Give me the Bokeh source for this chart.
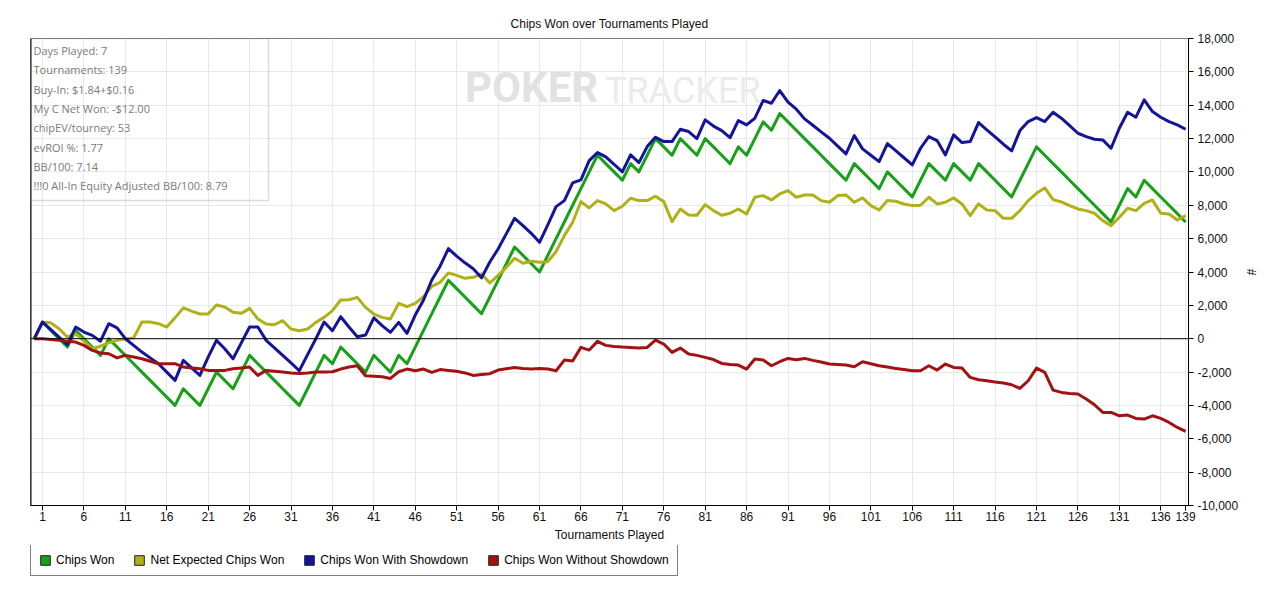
from bokeh.plotting import figure
from bokeh.layouts import column
from bokeh.models import (Range1d, FixedTicker, NumeralTickFormatter, Span, Label,
                          BoxAnnotation, Legend, LegendItem, ColumnDataSource)
from bokeh.embed import file_html
from bokeh.resources import INLINE

# ---------------- data ----------------
tournaments = list(range(0, 140))

chips_won = [
    0, 1000, 500, 0, -500, 500, 0, -500, -1000, 0,
    -500, -1000, -1500, -2000, -2500, -3000, -3500, -4000, -3000, -3500,
    -4000, -3000, -2000, -2500, -3000, -2000, -1000, -1500, -2000, -2500,
    -3000, -3500, -4000, -3000, -2000, -1000, -1500, -500, -1000, -1500,
    -2000, -1000, -1500, -2000, -1000, -1500, -500, 500, 1500, 2500,
    3500, 3000, 2500, 2000, 1500, 2500, 3500, 4500, 5500, 5000,
    4500, 4000, 5000, 6000, 7000, 8000, 9000, 10000, 11000, 10500,
    10000, 9500, 10500, 10000, 11000, 12000, 11500, 11000, 12000, 11500,
    11000, 12000, 11500, 11000, 10500, 11500, 11000, 12000, 13000, 12500,
    13500, 13000, 12500, 12000, 11500, 11000, 10500, 10000, 9500, 10500,
    10000, 9500, 9000, 10000, 9500, 9000, 8500, 9500, 10500, 10000,
    9500, 10500, 10000, 9500, 10500, 10000, 9500, 9000, 8500, 9500,
    10500, 11500, 11000, 10500, 10000, 9500, 9000, 8500, 8000, 7500,
    7000, 8000, 9000, 8500, 9500, 9000, 8500, 8000, 7500, 7000,
]

net_expected_chips_won = [
    0, 980, 950, 600, 100, 300, -150, -600, -450, -250,
    -100, 0, 50, 1000, 1000, 900, 700, 1250, 1850, 1650,
    1480, 1480, 2020, 1900, 1580, 1520, 1820, 1180, 880, 840,
    1080, 580, 480, 580, 980, 1280, 1680, 2320, 2340, 2480,
    1880, 1480, 1280, 1180, 2120, 1920, 2120, 2520, 3140, 3380,
    3940, 3800, 3620, 3680, 3880, 3340, 3800, 4280, 4820, 4520,
    4640, 4580, 4620, 5220, 6180, 6980, 8220, 7840, 8280, 8080,
    7680, 7940, 8420, 8280, 8280, 8540, 8220, 7020, 7780, 7420,
    7400, 8040, 7680, 7400, 7520, 7780, 7480, 8480, 8580, 8320,
    8680, 8880, 8480, 8620, 8620, 8280, 8180, 8580, 8620, 8180,
    8440, 7980, 7720, 8280, 8240, 8080, 7980, 8000, 8480, 8080,
    8180, 8440, 8080, 7380, 8080, 7720, 7680, 7220, 7220, 7680,
    8280, 8720, 9040, 8340, 8200, 7980, 7780, 7680, 7520, 7080,
    6780, 7280, 7820, 7680, 8120, 8320, 7520, 7480, 7120, 7380,
]

chips_won_with_showdown = [
    0, 1000, 550, 100, -350, 700, 400, 200, -150, 900,
    650, 0, -400, -800, -1150, -1500, -2000, -2500, -1300, -1750,
    -2200, -1100, -100, -600, -1200, -250, 700, 700, -100, -550,
    -1000, -1450, -1920, -950, 0, 1000, 480, 1320, 700, 120,
    220, 1250, 780, 380, 980, 320, 1420, 2320, 3520, 4350,
    5400, 4950, 4550, 4200, 3650, 4600, 5380, 6300, 7220, 6780,
    6320, 5780, 6820, 7920, 8280, 9340, 9520, 10680, 11160, 10900,
    10460, 10000, 11020, 10560, 11520, 12080, 11820, 11820, 12560, 12420,
    12000, 13120, 12750, 12480, 12050, 13080, 12820, 13220, 14280, 14120,
    14880, 14180, 13760, 13180, 12800, 12400, 12020, 11550, 11080, 12180,
    11380, 11000, 10620, 11700, 11280, 10850, 10420, 11420, 12120, 11880,
    11020, 12220, 11760, 11820, 12960, 12520, 12100, 11660, 11260, 12480,
    13020, 13260, 13020, 13580, 13220, 12780, 12320, 12120, 11960, 11920,
    11420, 12620, 13580, 13280, 14320, 13620, 13280, 13020, 12820, 12560,
]

chips_won_without_showdown = [
    0, 0, -50, -100, -150, -200, -400, -700, -850, -900,
    -1150, -1000, -1100, -1200, -1350, -1500, -1500, -1500, -1700, -1750,
    -1800, -1900, -1900, -1900, -1800, -1750, -1700, -2200, -1900, -1950,
    -2000, -2050, -2080, -2050, -2000, -2000, -1980, -1820, -1700, -1620,
    -2220, -2250, -2280, -2380, -1980, -1820, -1920, -1820, -2020, -1850,
    -1900, -1950, -2050, -2200, -2150, -2100, -1880, -1800, -1720, -1780,
    -1820, -1780, -1820, -1920, -1280, -1340, -520, -680, -160, -400,
    -460, -500, -520, -560, -520, -80, -320, -820, -560, -920,
    -1000, -1120, -1250, -1480, -1550, -1580, -1820, -1220, -1280, -1620,
    -1380, -1180, -1260, -1180, -1300, -1400, -1520, -1550, -1580, -1680,
    -1380, -1500, -1620, -1700, -1780, -1850, -1920, -1920, -1620, -1880,
    -1520, -1720, -1760, -2320, -2460, -2520, -2600, -2660, -2760, -2980,
    -2520, -1760, -2020, -3080, -3220, -3280, -3320, -3620, -3960, -4420,
    -4420, -4620, -4580, -4780, -4820, -4620, -4780, -5020, -5320, -5560,
]

series_names = ["Chips Won", "Net Expected Chips Won",
                "Chips Won With Showdown", "Chips Won Without Showdown"]
series_colors = ["#18a018", "#b0b018", "#14149a", "#a31212"]

x_ticks = [1, 6, 11, 16, 21, 26, 31, 36, 41, 46, 51, 56, 61, 66, 71, 76, 81,
           86, 91, 96, 101, 106, 111, 116, 121, 126, 131, 136, 139]
y_ticks = [-10000, -8000, -6000, -4000, -2000, 0, 2000, 4000, 6000, 8000,
           10000, 12000, 14000, 16000, 18000]

info_lines = [
    "Days Played: 7",
    "Tournaments: 139",
    "Buy-In: $1.84+$0.16",
    "My C Net Won: -$12.00",
    "chipEV/tourney: 53",
    "evROI %: 1.77",
    "BB/100: 7.14",
    "!!!0 All-In Equity Adjusted BB/100: 8.79",
]

# ---------------- figure ----------------
X0, X1 = -0.45, 139.35
Y0, Y1 = -10000, 18000
FRAME_W = 1158
FRAME_H = 467

p = figure(frame_width=FRAME_W, frame_height=FRAME_H, output_backend="svg",
           toolbar_location=None,
           x_range=Range1d(X0, X1), y_range=Range1d(Y0, Y1),
           y_axis_location="right",
           title="Chips Won over Tournaments Played",
           min_border_left=30, min_border_right=84,
           min_border_top=38, min_border_bottom=40)

p.background_fill_color = "white"
p.border_fill_color = "white"
p.outline_line_color = "#7a7a7a"
p.outline_line_width = 1

p.title.align = "center"
p.title.offset = 38
p.title.standoff = 16
p.title.text_font = "Liberation Sans"
p.title.text_font_size = "12px"
p.title.text_font_style = "normal"
p.title.text_color = "#111111"

AX_FONT = "Liberation Sans"
xa = p.xaxis[0]
xa.ticker = FixedTicker(ticks=x_ticks)
xa.axis_label = "Tournaments Played"
xa.axis_label_text_font = AX_FONT
xa.axis_label_text_font_size = "12px"
xa.axis_label_text_font_style = "normal"
xa.axis_label_text_color = "#111111"
xa.axis_label_standoff = 4
xa.major_label_text_font = AX_FONT
xa.major_label_text_font_size = "12px"
xa.major_label_text_color = "#111111"
xa.major_label_standoff = 1
xa.major_tick_out = 5
xa.major_tick_in = 0
xa.minor_tick_line_color = None
xa.axis_line_color = "black"

ya = p.yaxis[0]
ya.ticker = FixedTicker(ticks=y_ticks)
ya.formatter = NumeralTickFormatter(format="0,0")
ya.axis_label = "#"
ya.axis_label_text_font = AX_FONT
ya.axis_label_text_font_size = "12px"
ya.axis_label_text_font_style = "normal"
ya.axis_label_text_color = "#111111"
ya.axis_label_standoff = 3
ya.major_label_text_font = AX_FONT
ya.major_label_text_font_size = "12px"
ya.major_label_text_color = "#111111"
ya.major_label_standoff = 4
ya.major_tick_out = 5
ya.major_tick_in = 0
ya.minor_tick_line_color = None
ya.axis_line_color = "black"

p.xgrid.grid_line_color = "#e8e8e8"
p.ygrid.grid_line_color = "#e8e8e8"

# watermark
p.add_layout(Label(x=52.0, y=13620, text="POKER", text_font="Roboto",
                   text_font_size="42px", text_font_style="bold",
                   text_color="#e2e2e2", level="underlay"))
p.add_layout(Label(x=68.9, y=13620, text="TRACKER", text_font="Roboto",
                   text_font_size="36px", text_font_style="normal",
                   text_color="#ebebeb", level="underlay"))

# zero line and left border
p.add_layout(Span(location=0, dimension="width", line_color="black", line_width=1))
p.add_layout(Span(location=X0, dimension="height", line_color="black", line_width=2))

# ---------------- lines ----------------
src = ColumnDataSource(dict(t=tournaments, cw=chips_won, ne=net_expected_chips_won,
                            ws=chips_won_with_showdown, wo=chips_won_without_showdown))
cols = ["cw", "ne", "ws", "wo"]
for c, col in zip(cols, series_colors):
    p.line("t", c, source=src, line_color=col, line_width=3, line_join="round")

# ---------------- info box ----------------
box_right = X0 + 238.0 / FRAME_W * (X1 - X0)
box_bottom = Y1 - 162.0 / FRAME_H * (Y1 - Y0)
p.add_layout(BoxAnnotation(left=X0, right=box_right, top=Y1, bottom=box_bottom,
                           fill_alpha=0, line_color="#8a8a8a", line_width=1.5))

for i, line in enumerate(info_lines):
    y_px_from_top = 12 + i * 19.3
    p.add_layout(Label(x=3, y=FRAME_H - y_px_from_top, x_units="screen", y_units="screen",
                       text=line, text_font="Open Sans", text_font_size="11px",
                       text_color="#7a7a7a", text_baseline="middle"))

# ---------------- legend (separate strip below) ----------------
LEG_H = 44
lf = figure(width=30 + FRAME_W + 84, height=LEG_H, output_backend="svg",
            toolbar_location=None, x_axis_location=None, y_axis_location=None,
            x_range=Range1d(0, 1), y_range=Range1d(0, 1),
            min_border=0)
lf.outline_line_color = None
lf.xgrid.visible = False
lf.ygrid.visible = False
lf.background_fill_color = "white"
lf.border_fill_color = "white"

items = []
for name, col in zip(series_names, series_colors):
    # swatch renderer kept outside the visible range; only its legend glyph shows
    q = lf.quad(left=[5], right=[6], top=[6], bottom=[5], fill_color=col,
                line_color="#222222", line_width=1)
    items.append(LegendItem(label=name, renderers=[q]))

legend = Legend(items=items, orientation="horizontal", location=(0, LEG_H - 31),
                border_line_color="black", border_line_width=1,
                background_fill_color="white", background_fill_alpha=1,
                label_text_font=AX_FONT, label_text_font_size="12px",
                label_text_color="black",
                glyph_width=12, glyph_height=12, label_standoff=5,
                spacing=19, padding=8, margin=0, label_height=14)
lf.add_layout(legend, "center")

layout = column(p, lf, spacing=0)
open("out.html", "w").write(file_html(layout, INLINE))
